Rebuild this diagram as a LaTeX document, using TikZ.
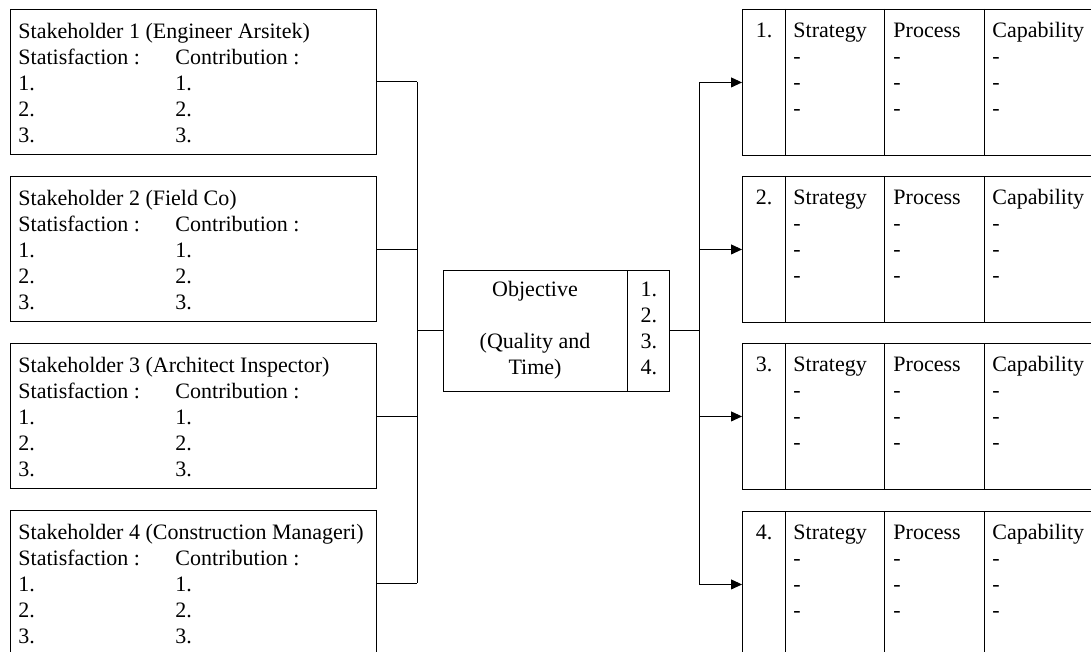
\documentclass[tikz,border=0pt]{standalone}
\usepackage{fontspec}
\setmainfont{Liberation Serif}
\usetikzlibrary{arrows.meta,positioning,calc}

\begin{document}
\begin{tikzpicture}[x=1pt,y=-1pt,line width=0.9pt,
    box/.style={draw,rectangle,inner sep=0pt,anchor=north west},
    txt/.style={inner sep=0pt,font=\fontsize{22}{26}\selectfont},
    link/.style={-{Triangle[length=11pt,width=10pt]}}]
    \useasboundingbox (0,0) rectangle (1091,652);
    \clip (0,0) rectangle (1091,652);

    % Stakeholder boxes
    \foreach \i/\ty/\who in {1/9/Engineer Arsitek, 2/176/Field Co, 3/343/Architect Inspector, 4/510/Construction Manageri}{
        \node[box,minimum width=366pt,minimum height=145pt] (sh\i) at (10,\ty) {};
        \node[txt,anchor=north west] (sht\i) at ($(sh\i.north west)+(8,11)$) {%
            \begin{tabular}{@{}p{157pt}@{}l@{}}
            \multicolumn{2}{@{}l@{}}{Stakeholder \i\ (\who)}\\
            Statisfaction : & Contribution :\\
            1. & 1.\\
            2. & 2.\\
            3. & 3.
            \end{tabular}};
    }

    % Objective
    \node[box,txt,anchor=center,minimum width=184pt,minimum height=121pt] (obj) at (535,330.5)
        {\begin{tabular}{@{}c@{}}Objective\\ \\ (Quality and\\ Time)\end{tabular}};
    \node[box,txt,anchor=west,minimum width=42pt,minimum height=121pt] (objnum) at (obj.east)
        {\begin{tabular}{@{}c@{}}1.\\ 2.\\ 3.\\ 4.\end{tabular}};

    % Result boxes
    \foreach \i/\ty in {1/9,2/176,3/343,4/511}{
        \node[box,minimum width=360pt,minimum height=146pt] (rb\i) at (742,\ty) {};
        \node[txt,anchor=north] (rbn\i) at ($(rb\i.north west)+(22,10)$) {\strut\i.};
        \foreach \x in {43,142,242}
            \draw ($(rb\i.north west)+(\x,0)$) -- ($(rb\i.south west)+(\x,0)$);
        \foreach \x/\hd in {51/Strategy,151/Process,250/Capability}
            \node[txt,anchor=north west] (rc\i-\x) at ($(rb\i.north west)+(\x,10)$)
                {\begin{tabular}{@{}l@{}}\hd\\ -\\ -\\ -\end{tabular}};
    }

    % Connectors
    \coordinate (lbus) at (417,0);
    \coordinate (rbus) at (699,0);
    \foreach \i in {1,...,4}{
        \draw (sh\i.east) -- (sh\i.east -| lbus);
        \draw[link] (rb\i.west -| rbus) -- (rb\i.west);
    }
    \draw (sh1.east -| lbus) -- (sh4.east -| lbus);
    \draw (rb1.west -| rbus) -- (rb4.west -| rbus);
    \draw[line width=1.8pt] (obj.west -| lbus) -- (obj.west);
    \draw[line width=1.8pt] (objnum.east) -- (objnum.east -| rbus);
\end{tikzpicture}
\end{document}
